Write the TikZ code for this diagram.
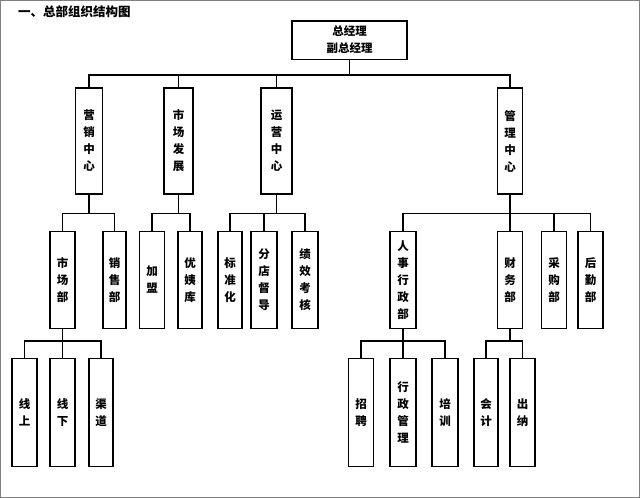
\documentclass[tikz,border=0pt]{standalone}
\usepackage{fontspec}
\setmainfont{Noto Sans CJK SC}
\begin{document}
\begin{tikzpicture}[x=1pt,y=-1pt,line width=1.6pt,
box/.style={draw,rectangle,inner sep=0pt,align=center,font=\bfseries\fontsize{11.5}{17}\selectfont},
lvA/.style={box,minimum width=27pt,minimum height=106pt},
lvB/.style={box,minimum width=25pt,minimum height=97pt},
lvC/.style={box,minimum width=25pt,minimum height=108pt}]
\useasboundingbox (0,0) rectangle (640,498);
\draw[gray,line width=1pt] (0.5,0.5) rectangle (639.5,497.5);
\node[anchor=west,font=\bfseries\fontsize{12.5}{14}\selectfont] (title) at (14,12) {一、总部组织结构图};
\node[box,minimum width=115pt,minimum height=38.6pt] (zjl) at (349.5,40) {总经理\\副总经理};
% first level
\node[lvA] (yx) at (89,141) {营\\销\\中\\心};
\node[lvA,minimum width=29pt] (scfz) at (178.5,141) {市\\场\\发\\展};
\node[lvA,minimum width=31pt] (yy) at (276.5,141) {运\\营\\中\\心};
\node[lvA,minimum width=25pt] (gl) at (510,141) {管\\理\\中\\心};
% second level
\node[lvB] (scb) at (62.5,280) {市\\场\\部};
\node[lvB,minimum width=23pt] (xsb) at (114.5,280) {销\\售\\部};
\node[lvB] (jm) at (152,280) {加\\盟};
\node[lvB,minimum width=24pt] (yyk) at (190,280) {优\\姨\\库};
\node[lvB,minimum width=24pt] (bzh) at (230,280) {标\\准\\化};
\node[lvB,minimum width=26pt] (fddd) at (264,280) {分\\店\\督\\导};
\node[lvB,minimum width=26pt] (jxkh) at (305,280) {绩\\效\\考\\核};
\node[lvB,minimum width=26pt] (rsxz) at (403,280) {人\\事\\行\\政\\部};
\node[lvB] (cwb) at (510,280) {财\\务\\部};
\node[lvB] (cgb) at (554,280) {采\\购\\部};
\node[lvB] (hqb) at (590.5,280) {后\\勤\\部};
% third level
\node[lvC] (xs) at (24.5,412.5) {线\\上};
\node[lvC] (xx) at (62.5,412.5) {线\\下};
\node[lvC,minimum width=24pt] (qd) at (101,412.5) {渠\\道};
\node[lvC] (zp) at (361,412.5) {招\\聘};
\node[lvC,minimum width=26pt] (xzgl) at (403,412.5) {行\\政\\管\\理};
\node[lvC,minimum width=26pt] (px) at (445,412.5) {培\\训};
\node[lvC,minimum width=24pt] (kj) at (486,412.5) {会\\计};
\node[lvC] (cn) at (522.5,412.5) {出\\纳};
% connectors
\draw (zjl.south)--++(0,14.7)-|(yx.north) (zjl.south)--++(0,14.7)-|(scfz.north)
(zjl.south)--++(0,14.7)-|(yy.north) (zjl.south)--++(0,14.7)-|(gl.north);
\draw (yx.south)--++(0,18.7)-|(scb.north) (yx.south)--++(0,18.7)-|(xsb.north)
(scfz.south)--++(0,18.7)-|(jm.north) (scfz.south)--++(0,18.7)-|(yyk.north)
(yy.south)--++(0,18.7)-|(bzh.north) (yy.south)--++(0,18.7)-|(fddd.north)
(yy.south)--++(0,18.7)-|(jxkh.north)
(gl.south)--++(0,18.7)-|(rsxz.north) (gl.south)--++(0,18.7)-|(cwb.north)
(gl.south)--++(0,18.7)-|(cgb.north) (gl.south)--++(0,18.7)-|(hqb.north);
\draw (scb.south)--++(0,11.7)-|(xs.north) (scb.south)--++(0,11.7)-|(xx.north)
(scb.south)--++(0,11.7)-|(qd.north)
(rsxz.south)--++(0,11.7)-|(zp.north) (rsxz.south)--++(0,11.7)-|(xzgl.north)
(rsxz.south)--++(0,11.7)-|(px.north)
(cwb.south)--++(0,11.7)-|(kj.north) (cwb.south)--++(0,11.7)-|(cn.north);
\end{tikzpicture}
\end{document}
